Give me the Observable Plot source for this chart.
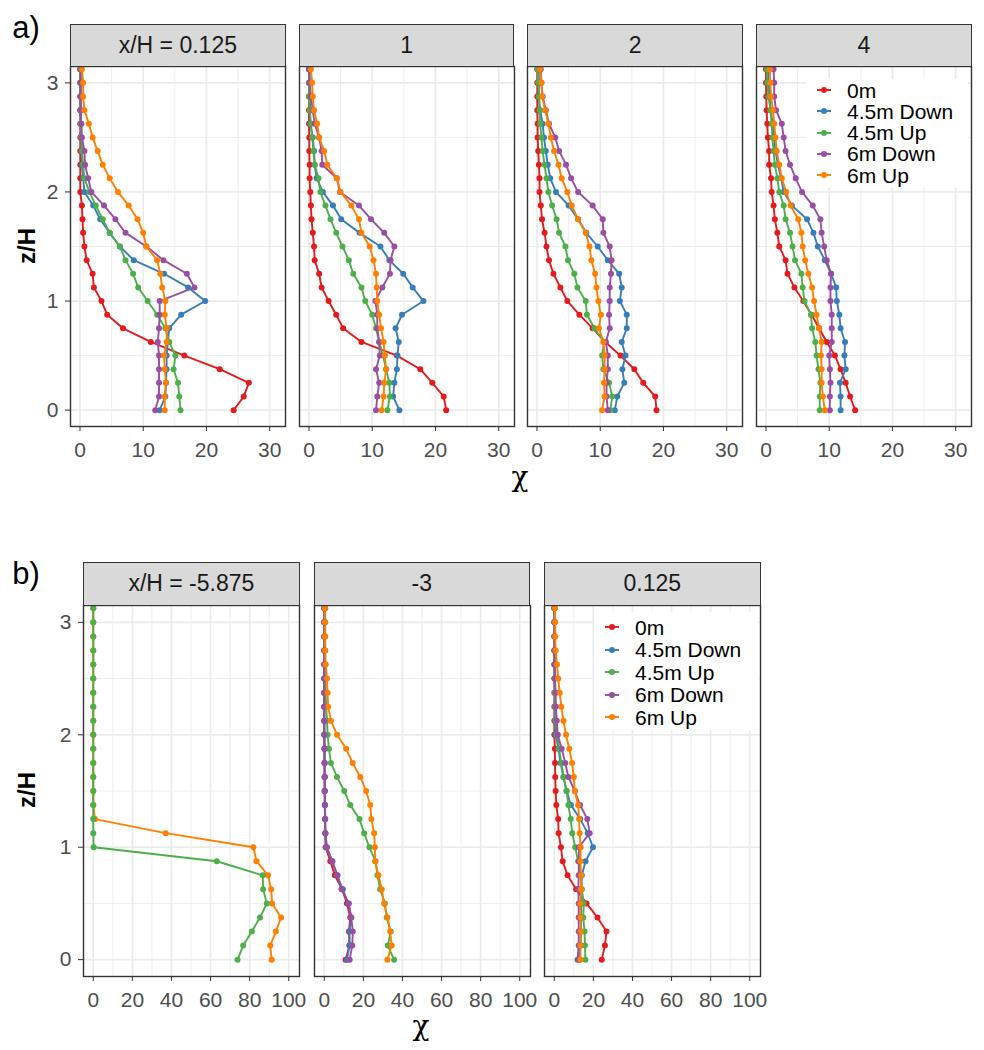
<!DOCTYPE html>
<html><head><meta charset="utf-8">
<script src="https://cdn.jsdelivr.net/npm/d3@7"></script>
<script src="https://cdn.jsdelivr.net/npm/@observablehq/plot@0.6"></script>
<style>
body{margin:0;background:#fff;font-family:"Liberation Sans",Arial,sans-serif;}
#root{position:relative;width:984px;height:1050px;overflow:hidden;background:#fff;}
.strip{position:absolute;background:#D9D9D9;border:1.3px solid #333;box-sizing:border-box;display:flex;align-items:center;justify-content:center;font-size:23px;color:#1A1A1A;}
.lbl{position:absolute;white-space:nowrap;color:#000;line-height:1;}
.leg{position:absolute;background:#fff;}
.legrow{position:absolute;display:flex;align-items:center;white-space:nowrap;color:#000;line-height:1;}
.legrow span{line-height:1;}
</style>
</head><body><div id="root"></div>
<script>
// ---- data ----
const zH = [0,0.125,0.25,0.375,0.5,0.625,0.75,0.875,1,1.125,1.25,1.375,1.5,1.625,1.75,1.875,2,2.125,2.25,2.375,2.5,2.625,2.75,2.875,3,3.125];
const seriesNames = ["0m","4.5m Down","4.5m Up","6m Down","6m Up"];
const seriesColors = ["#E41A1C","#377EB8","#4DAF4A","#984EA3","#FF7F00"];

// x/H = 0.125
const a0125_0m   = [24.3,25.9,26.7,22.1,16.5,11.2,6.8,4.3,3.4,2.2,2.0,1.05,0.7,0.5,0.4,0.3,0.05,0.05,0.05,0.05,0.05,0.05,0.05,0.05,0.05,0.05];
const a0125_45d  = [12.6,13.5,13.6,13.7,13.7,13.9,14.1,16.0,19.8,17.1,13.3,8.5,6.3,4.7,3.2,2.1,0.7,0.5,0.3,0.3,0.2,0.2,0.1,0.1,0.1,0.1];
const a0125_45u  = [15.9,15.7,15.5,14.8,15.1,14.1,13.5,12.2,10.7,9.2,8.4,7.2,6.3,4.7,3.6,2.5,1.5,0.7,0.5,0.3,0.2,0.1,0.05,0.05,0.0,0.0];
const a0125_6d   = [11.9,12.5,12.5,12.5,12.5,12.3,12.5,12.6,12.6,18.1,16.9,13.2,10.5,7.2,5.6,3.8,1.8,1.3,0.8,0.7,0.3,0.2,0.1,0.1,0.1,0.1];
const a0125_6u   = [13.4,13.4,13.6,13.4,13.3,13.7,13.7,13.4,13.5,13.0,12.7,12.2,10.5,10.0,9.1,7.7,6.0,4.7,3.6,2.8,2.0,1.4,0.7,0.5,0.5,0.3];
// x/H = 1
const a1_0m  = [21.7,21.3,19.5,17.6,13.9,8.3,5.4,4.3,3.1,2.0,1.6,0.9,0.8,0.6,0.4,0.3,0.2,0.1,0.1,0.05,0.05,0,0,0,0,0];
const a1_45d = [14.3,13.3,13.5,13.9,14.0,14.2,13.7,14.7,18.1,16.4,14.9,12.7,11.3,8.0,5.1,3.8,2.2,1.2,0.9,0.8,0.6,0.2,0.2,0.1,0.1,0.1];
const a1_45u = [12.4,12.8,12.7,12.2,11.7,11.1,10.6,10.0,8.9,8.3,7.0,6.3,5.3,4.3,3.4,2.6,1.8,1.5,0.9,0.7,0.5,0.3,0.1,0,0,0];
const a1_6d  = [10.6,10.8,11.1,10.6,11.2,11.1,10.8,10.8,10.5,11.6,12.8,12.9,13.5,11.9,9.8,7.9,4.9,4.4,2.1,2.0,1.6,0.9,0.6,0.3,0.1,0.0];
const a1_6u  = [11.5,11.8,11.9,12.2,12.0,11.8,11.4,11.1,10.8,10.7,10.6,10.2,9.6,8.3,7.9,6.7,5.0,4.4,2.9,2.4,1.6,1.3,0.8,0.6,0.5,0.3];
// x/H = 2
const a2_0m  = [18.9,18.7,16.8,15.4,13.2,10.8,8.8,6.7,4.8,3.7,2.6,1.9,1.5,1.2,0.8,0.6,0.4,0.4,0.3,0.2,0.1,0.1,0.05,0.05,0.05,0.05];
const a2_45d = [12.3,12.7,13.8,13.5,14.0,13.4,14.2,14.2,13.1,13.4,13.0,11.2,9.6,7.8,6.5,5.0,3.0,2.1,1.7,1.4,1.1,0.9,0.5,0.3,0.3,0.3];
const a2_45u = [11.6,11.9,11.4,10.5,10.3,10.6,9.1,7.9,7.7,6.4,5.9,4.9,4.5,3.5,3.1,2.4,1.8,1.5,1.2,0.9,0.7,0.5,0.4,0.3,0.2,0.1];
const a2_6d  = [11.2,11.0,11.0,11.2,11.2,10.9,11.5,11.4,11.5,11.5,11.7,11.8,11.5,10.5,10.4,8.8,6.5,5.4,4.6,3.5,2.9,1.9,1.4,0.9,0.7,0.6];
const a2_6u  = [10.3,10.7,10.6,10.7,10.7,10.5,9.8,10.1,9.7,9.4,9.2,8.6,8.3,7.7,6.5,5.5,4.8,3.9,3.4,2.7,2.2,1.8,1.3,0.8,0.7,0.5];
// x/H = 4
const a4_0m  = [14.1,13.3,12.6,11.8,10.9,9.6,8.4,7.2,5.9,4.5,3.4,3.1,2.1,1.8,1.4,1.2,0.9,0.8,0.5,0.5,0.3,0.2,0.1,0.05,0.0,0.0];
const a4_45d = [11.8,11.8,11.7,12.6,12.4,12.5,11.8,11.6,11.2,11.1,10.3,9.3,8.2,7.5,6.5,4.1,2.8,2.4,1.9,1.5,1.3,1.1,0.7,0.6,0.4,0.3];
const a4_45u = [8.5,8.5,8.6,8.3,8.0,7.8,7.3,7.1,6.1,5.8,5.6,4.6,4.2,3.8,3.1,2.8,2.1,1.8,1.4,1.2,1.0,0.9,0.7,0.4,0.2,0.15];
const a4_6d  = [10.1,10.1,10.2,10.1,10.0,10.4,10.4,10.4,10.2,10.2,10.3,9.6,9.2,8.8,8.6,7.4,5.7,4.7,3.8,3.1,2.8,2.5,1.6,1.3,1.3,1.2];
const a4_6u  = [9.3,9.0,8.8,8.8,8.7,8.8,8.4,8.0,7.6,7.3,6.7,6.2,5.8,5.6,5.1,3.9,3.2,2.5,2.1,1.7,1.5,1.3,1.1,0.8,0.7,0.6];
// x/H = -5.875
const bm5875_45u = [73.8,76.7,81.1,85.3,88.8,86.9,86.7,63.2,0.2,0,0,0,0,0,0,0,0,0,0,0,0,0,0,0,0,0];
const bm5875_6u  = [91.3,90.5,93.4,96.1,91.5,91.0,89.4,83.5,81.9,37.0,0.9,0,0,0,0,0,0,0,0,0,0,0,0,0,0,0];
// x/H = -3
const bm3_0m  = [10.9,12.9,12.6,13.3,11.6,9.2,5.4,3.1,0.7,0.5,0.4,0.3,0.2,0.2,0.1,0.1,0,0,0,0,0,0,0,0,0,0];
const bm3_45d = [11.6,12.9,12.9,13.8,12.2,9.5,6.5,4.1,1.0,0.5,0.4,0.3,0.2,0.2,0.1,0.1,0,0,0,0,0,0,0,0,0,0];
const bm3_45u = [35.7,32.5,34.0,32.0,31.0,28.6,27.2,26.2,23.1,20.4,18.0,13.3,10.2,6.5,3.4,2.4,1.7,1.4,1.0,0.7,0.7,0.5,0.5,0.5,0.5,0.5];
const bm3_6d  = [13.0,14.3,14.6,13.8,12.6,8.8,6.8,4.1,1.4,0.6,0.5,0.4,0.3,0.2,0.2,0.1,0.1,0,0,0,0,0,0,0,0,0];
const bm3_6u  = [32.3,34.5,33.7,32.3,30.6,29.4,27.7,26.0,25.9,25.5,24.1,23.5,21.4,18.4,14.5,11.2,6.5,3.4,2.0,1.7,1.4,0.7,0.4,0.3,0.3,0.3];

const yMajor = [0,1,2,3], yMinor = [0.5,1.5,2.5];
const xMajorTop = [0,10,20,30], xMinorTop = [5,15,25];
const xMajorBot = [0,20,40,60,80,100], xMinorBot = [10,30,50,70,90];

// ---- drawing ----
const root = document.getElementById("root");
const FONT = '"Liberation Sans", Arial, sans-serif';

function toRows(list) {
  const rows = [];
  list.forEach(([name, vals]) => vals.forEach((v, i) => rows.push({series: name, chi: v, z: zH[i]})));
  return rows;
}

function panel({left, top, w, h, xDomain, xMajor, xMinor, series, yAxis, ml, stripTop, stripLabel, yLabelRight, tickFs}) {
  const mt = 6, mr = 6, mb = 50;
  const data = toRows(series);
  const marks = [
    Plot.ruleX(xMinor, {stroke: "#EBEBEB", strokeWidth: 0.9}),
    Plot.ruleY(yMinor, {stroke: "#EBEBEB", strokeWidth: 0.9}),
    Plot.ruleX(xMajor, {stroke: "#EBEBEB", strokeWidth: 1.7}),
    Plot.ruleY(yMajor, {stroke: "#EBEBEB", strokeWidth: 1.7}),
    Plot.line(data, {x: "chi", y: "z", z: "series", stroke: "series", strokeWidth: 1.9, clip: true}),
    Plot.dot(data, {x: "chi", y: "z", fill: "series", r: 3, clip: true}),
    Plot.frame({stroke: "#333333", strokeWidth: 1.4}),
    Plot.axisX(xMajor, {tickSize: 5, tickPadding: 11, fontSize: tickFs, stroke: "#333333", fill: "#4D4D4D", label: null, tickFormat: d => String(d)})
  ];
  if (yAxis) marks.push(Plot.axisY(yMajor, {tickSize: 5, tickPadding: yLabelRight, fontSize: tickFs, stroke: "#333333", fill: "#4D4D4D", label: null, tickFormat: d => String(d)}));
  const svg = Plot.plot({
    width: ml + w + mr, height: mt + h + mb,
    marginLeft: ml, marginRight: mr, marginTop: mt, marginBottom: mb,
    style: {background: "transparent", fontFamily: FONT, fontSize: tickFs + "px", overflow: "visible"},
    x: {domain: xDomain},
    y: {domain: [-0.15, 3.15], axis: yAxis ? undefined : null},
    color: {domain: seriesNames, range: seriesColors},
    marks
  });
  svg.style.position = "absolute";
  svg.style.left = (left - ml) + "px";
  svg.style.top = (top - mt) + "px";
  root.appendChild(svg);
  const s = document.createElement("div");
  s.className = "strip";
  s.style.left = left + "px"; s.style.top = stripTop + "px";
  s.style.width = (w + 0.7) + "px"; s.style.height = (top - stripTop + 0.7) + "px";
  s.textContent = stripLabel;
  root.appendChild(s);
}

function label(text, x, y, size, extra) {
  const d = document.createElement("div");
  d.className = "lbl";
  d.textContent = text;
  d.style.fontSize = size + "px";
  d.style.left = x + "px"; d.style.top = y + "px";
  d.style.transform = "translate(-50%,-50%)" + (extra || "");
  root.appendChild(d);
  return d;
}

function legend(boxL, boxT, boxW, boxH, keyX, textX, y0, dy, fs) {
  const b = document.createElement("div");
  b.className = "leg";
  Object.assign(b.style, {left: boxL + "px", top: boxT + "px", width: boxW + "px", height: boxH + "px"});
  root.appendChild(b);
  seriesNames.forEach((n, i) => {
    const r = document.createElement("div");
    r.className = "legrow";
    r.style.fontSize = fs + "px";
    r.style.left = (keyX - 9) + "px";
    r.style.top = (y0 + i * dy - 9) + "px";
    r.style.height = "18px";
    r.innerHTML = `<svg width="18" height="18" style="flex:none"><line x1="2" x2="16" y1="9" y2="9" stroke="${seriesColors[i]}" stroke-width="1.9"/><circle cx="9" cy="9" r="3" fill="${seriesColors[i]}"/></svg><span style="margin-left:${textX - keyX - 9}px">${n}</span>`;
    root.appendChild(r);
  });
}

const S = (a, b, c, d, e) => [["0m", a], ["4.5m Down", b], ["4.5m Up", c], ["6m Down", d], ["6m Up", e]];

// top row
const topCfg = {top: 66, w: 215, h: 360, xDomain: [-1.5, 32.5], xMajor: xMajorTop, xMinor: xMinorTop, stripTop: 24, tickFs: 21};
panel({...topCfg, left: 70, ml: 70, yAxis: true, yLabelRight: 7, stripLabel: "x/H = 0.125",
  series: S(a0125_0m, a0125_45d, a0125_45u, a0125_6d, a0125_6u)});
panel({...topCfg, left: 298.7, ml: 6, yAxis: false, stripLabel: "1", series: S(a1_0m, a1_45d, a1_45u, a1_6d, a1_6u)});
panel({...topCfg, left: 527.3, ml: 6, yAxis: false, stripLabel: "2", series: S(a2_0m, a2_45d, a2_45u, a2_6d, a2_6u)});
panel({...topCfg, left: 756, ml: 6, yAxis: false, stripLabel: "4", series: S(a4_0m, a4_45d, a4_45u, a4_6d, a4_6u)});

// bottom row
const botCfg = {top: 605, w: 216, h: 371, xDomain: [-5, 105.5], xMajor: xMajorBot, xMinor: xMinorBot, stripTop: 562, tickFs: 21};
panel({...botCfg, left: 83, ml: 83, yAxis: true, yLabelRight: 7, stripLabel: "x/H = -5.875",
  series: [["6m Up", bm5875_6u], ["4.5m Up", bm5875_45u]]});
panel({...botCfg, left: 313.5, ml: 6, yAxis: false, stripLabel: "-3", series: S(bm3_0m, bm3_45d, bm3_45u, bm3_6d, bm3_6u)});
panel({...botCfg, left: 544, ml: 6, yAxis: false, stripLabel: "0.125",
  series: S(a0125_0m, a0125_45d, a0125_45u, a0125_6d, a0125_6u)});

// legends
legend(806, 79, 162, 108, 824, 847, 90, 21.3, 21);
legend(594, 612, 164, 118, 612, 635, 627, 22.5, 21);

// titles
label("a)", 26, 27, 31);
label("b)", 26, 573, 31);
const z1 = label("z/H", 27, 246, 24, " rotate(-90deg)"); z1.style.fontWeight = "bold";
const z2 = label("z/H", 27, 790, 24, " rotate(-90deg)"); z2.style.fontWeight = "bold";
const c1 = label("χ", 520, 477, 28); c1.style.fontFamily = '"DejaVu Serif", serif';
const c2 = label("χ", 421, 1026, 28); c2.style.fontFamily = '"DejaVu Serif", serif';
</script>
</body></html>
